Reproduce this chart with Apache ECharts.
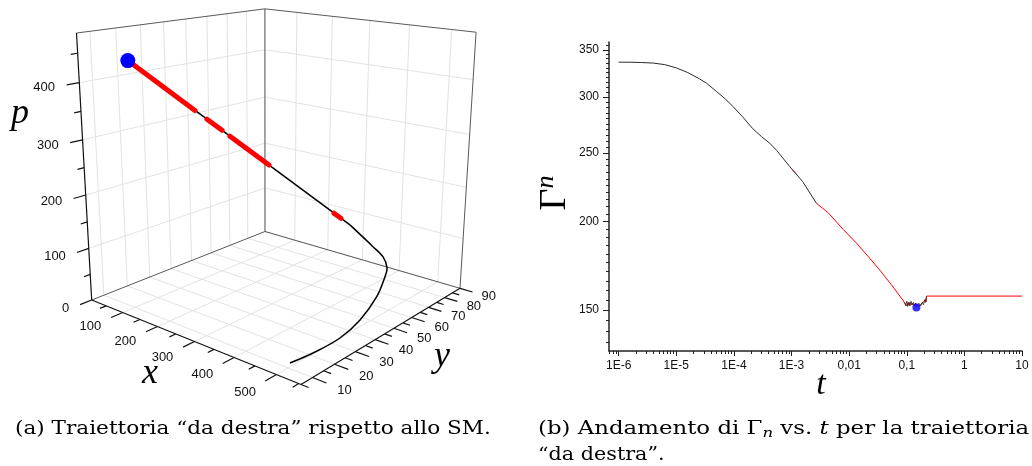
<!DOCTYPE html>
<html>
<head>
<meta charset="utf-8">
<script src="https://cdn.jsdelivr.net/npm/echarts@6/dist/echarts.min.js"></script>
<style>
  html, body { margin: 0; padding: 0; background: #fff; }
  #chart { width: 1032px; height: 466px; }
</style>
</head>
<body>
<div id="chart"></div>
<script>
// ---------- panel (a): trajectory in the (x, y, p) box ----------
const xRange = [5, 555];
const yRange = [5, 90];
const pRange = [0, 484];
const xMajor = [100, 200, 300, 400, 500];
const xMinor = [50, 150, 250, 350, 450, 550];
const yMajor = [10, 20, 30, 40, 50, 60, 70, 80, 90];
const yMinor = [5, 15, 25, 35, 45, 55, 65, 75, 85];
const pMajor = [0, 100, 200, 300, 400];
const pMinor = [50, 150, 250, 350, 450];

// trajectory points, first step to final point; the last step is a straight run
const trajX = [504.2, 522.0, 532.7, 526.1, 499.0, 464.9, 448.8, 418.6, 383.3, 327.3, 49.0];
const trajY = [10.0, 17.7, 27.1, 38.4, 53.2, 65.6, 70.5, 75.1, 77.1, 75.7, 18.3];
const trajP = [9.7, 16.9, 24.2, 31.5, 38.7, 46.0, 50.8, 58.1, 67.8, 102.6, 432.7];

// highlighted stretches of the trajectory (start, end)
const redX = [[49.0, 126.9], [141.3, 159.6], [169.4, 218.6], [305.1, 314.8]];
const redY = [[18.3, 34.3], [37.3, 41.1], [43.1, 53.3], [71.1, 73.1]];
const redP = [[432.7, 340.3], [323.3, 301.5], [289.9, 231.5], [128.8, 117.4]];

// ---------- panel (b): Gamma_n against t ----------
const tBlack = [1e-6, 1.585e-6, 2.512e-6, 3.981e-6, 6.310e-6, 1e-5, 1.585e-5, 2.512e-5, 3.334e-5,
  5.012e-5, 7.079e-5, 9.638e-5, 1.413e-4, 2.118e-4, 3.020e-4, 4.188e-4, 5.534e-4, 9.311e-4,
  1.563e-3, 2.704e-3];
const gBlack = [336.2, 336.1, 335.8, 335.2, 333.5, 330.0, 325.0, 318.5, 314.0,
  305.5, 298.3, 291.0, 281.5, 270.8, 263.8, 258.2, 252.2, 239.3,
  227.9, 212.4];
const tBlip = [1.047e-3, 1.175e-3];
const gBlip = [236.7, 234.2];
const tRed = [2.704e-3, 4.305e-3, 7.834e-3, 0.01340, 0.02143, 0.03396, 0.05383, 0.08531,
  0.09333, 0.1, 0.1047, 0.1096, 0.1148, 0.1202, 0.1259, 0.1318, 0.1380, 0.1445, 0.1549,
  0.1660, 0.1778, 0.1905, 0.1995, 0.2089, 0.2163, 0.2213, 10];
const gRed = [212.4, 206.0, 195.2, 186.5, 178.6, 170.9, 163.0, 155.0,
  153.2, 152.0, 153.6, 152.3, 153.9, 152.5, 153.5, 152.3, 153.2, 151.9, 152.8,
  152.1, 153.1, 152.3, 154.3, 155.4, 154.0, 157.0, 157.0];
const tNoise = [0.09120, 0.09550, 0.1, 0.1035, 0.1084, 0.1135, 0.1189, 0.1245, 0.1303, 0.1365,
  0.1429, 0.1514, 0.1622, 0.1738, 0.1862, 0.1950, 0.2042, 0.2113, 0.2188];
const gNoise = [153.8, 152.2, 154.4, 151.8, 154.0, 152.0, 154.3, 152.6, 153.8, 152.0,
  153.5, 152.4, 153.4, 152.0, 153.8, 152.6, 155.0, 153.8, 156.8];
const tBest = [0.147];
const gBest = [151.3];

const tMajor = [1e-6, 1e-5, 1e-4, 1e-3, 1e-2, 1e-1, 1, 10];
const tLabels = ['1E-6', '1E-5', '1E-4', '1E-3', '0,01', '0,1', '1', '10'];
const gMajor = [150, 200, 250, 300, 350];
const tMin = 6.8e-7, tMax = 10;
const gMin = 131.3, gMax = 359;

const tMinor = [];
for (let d = -7; d <= 0; d++) {
  for (let k = 2; k <= 9; k++) {
    const v = k * Math.pow(10, d);
    if (v >= tMin && v <= tMax) tMinor.push(v);
  }
}
const gMinor = [];
for (let g = 135; g <= 355; g += 5) if (g % 50 !== 0) gMinor.push(g);

// ---------- perspective view of the unit box (u, v, w) onto the left panel ----------
const VIEW = [
  [159.6, 228.4, -21.32, 91.7],
  [21.02, -20.37, -269.64, 300],
  [-0.1651, 0.2079, -0.080, 1]
];
const norm = (val, r) => (val - r[0]) / (r[1] - r[0]);
function projN(u, v, w) {
  const r = VIEW.map(row => row[0] * u + row[1] * v + row[2] * w + row[3]);
  return [r[0] / r[2], r[1] / r[2]];
}
function proj(x, y, p) {
  return projN(norm(x, xRange), norm(y, yRange), norm(p, pRange));
}

const TICK = 0.055, TICK_MINOR = 0.03;
const gridLines = [], boxEdges = [], axisLines = [], tickLabels = [];

xMajor.forEach(x => {
  const u = norm(x, xRange);
  gridLines.push([[u, 0, 0], [u, 1, 0]], [[u, 1, 0], [u, 1, 1]]);
  axisLines.push([[u, 0, 0], [u, -TICK, 0]]);
  tickLabels.push({ at: [u, -0.15, 0], text: String(x), align: 'center' });
});
xMinor.forEach(x => {
  const u = norm(x, xRange);
  if (u >= 0 && u <= 1) axisLines.push([[u, 0, 0], [u, -TICK_MINOR, 0]]);
});
yMajor.forEach(y => {
  const v = norm(y, yRange);
  gridLines.push([[0, v, 0], [1, v, 0]], [[0, v, 0], [0, v, 1]]);
  axisLines.push([[1, v, 0], [1 + TICK, v, 0]]);
  tickLabels.push({ at: [1.125, v, 0], text: String(y), align: 'center' });
});
yMinor.forEach(y => {
  const v = norm(y, yRange);
  if (v >= 0 && v <= 1) axisLines.push([[1, v, 0], [1 + TICK_MINOR, v, 0]]);
});
pMajor.forEach(p => {
  const w = norm(p, pRange);
  if (p > pRange[0]) gridLines.push([[0, 0, w], [0, 1, w]], [[0, 1, w], [1, 1, w]]);
  axisLines.push([[0, 0, w], [0, -TICK, w]]);
  tickLabels.push({ at: [0, -0.105, w], text: String(p), align: 'right' });
});
pMinor.forEach(p => {
  const w = norm(p, pRange);
  if (w >= 0 && w <= 1) axisLines.push([[0, 0, w], [0, -TICK_MINOR, w]]);
});
boxEdges.push(
  [[0, 0, 1], [0, 1, 1]], [[0, 1, 1], [1, 1, 1]], [[0, 1, 0], [0, 1, 1]],
  [[1, 1, 0], [1, 1, 1]], [[0, 1, 0], [1, 1, 0]], [[0, 0, 0], [0, 1, 0]]
);
axisLines.push([[0, 0, 0], [1, 0, 0]], [[1, 0, 0], [1, 1, 0]], [[0, 0, 0], [0, 0, 1]]);

function segmentSeries(list, stroke, width, z) {
  return {
    type: 'custom', coordinateSystem: 'none', silent: true, z: z,
    data: list.map((_, i) => i),
    renderItem: params => {
      const s = list[params.dataIndex];
      const a = projN(s[0][0], s[0][1], s[0][2]);
      const b = projN(s[1][0], s[1][1], s[1][2]);
      return {
        type: 'line',
        shape: { x1: a[0], y1: a[1], x2: b[0], y2: b[1] },
        style: { stroke: stroke, lineWidth: width }
      };
    }
  };
}

const sansLabel = '13px "Liberation Sans", Arial, sans-serif';
const mathFont = 'italic 36px "Liberation Serif", "DejaVu Serif", serif';
const captionFont = '18px "DejaVu Serif", "Liberation Serif", serif';
const centered = { align: 'center', textAlign: 'center', verticalAlign: 'middle', textVerticalAlign: 'middle' };
const leftMid = { align: 'left', textAlign: 'left', verticalAlign: 'middle', textVerticalAlign: 'middle' };

const last = trajX.length - 1;

const series = [
  segmentSeries(gridLines, '#e3e3e3', 1, 1),
  segmentSeries(boxEdges, '#5a5a5a', 1, 2),
  segmentSeries(axisLines, '#111111', 1.2, 3),
  {
    type: 'custom', coordinateSystem: 'none', silent: true, z: 3,
    data: tickLabels.map((_, i) => i),
    renderItem: params => {
      const l = tickLabels[params.dataIndex];
      const c = projN(l.at[0], l.at[1], l.at[2]);
      return {
        type: 'text', x: c[0], y: c[1],
        style: {
          text: l.text, fill: '#111', font: sansLabel,
          align: l.align, textAlign: l.align,
          verticalAlign: 'middle', textVerticalAlign: 'middle'
        }
      };
    }
  },
  {
    // curved part of the trajectory, then the straight run to the final point
    type: 'custom', coordinateSystem: 'none', silent: true, z: 5,
    data: [0],
    renderItem: () => {
      const pts = trajX.map((x, i) => proj(x, trajY[i], trajP[i]));
      const curve = pts.slice(0, last);
      const a = pts[last - 1], b = pts[last];
      return {
        type: 'group',
        children: [
          { type: 'polyline', shape: { points: curve, smooth: 0.35 }, style: { stroke: '#000', lineWidth: 1.5, fill: null } },
          { type: 'line', shape: { x1: a[0], y1: a[1], x2: b[0], y2: b[1] }, style: { stroke: '#000', lineWidth: 1.5 } }
        ]
      };
    }
  },
  {
    type: 'custom', coordinateSystem: 'none', silent: true, z: 6,
    data: redX.map((_, i) => i),
    renderItem: params => {
      const i = params.dataIndex;
      const a = proj(redX[i][0], redY[i][0], redP[i][0]);
      const b = proj(redX[i][1], redY[i][1], redP[i][1]);
      return {
        type: 'line',
        shape: { x1: a[0], y1: a[1], x2: b[0], y2: b[1] },
        style: { stroke: '#ff0000', lineWidth: 5, lineCap: 'round' }
      };
    }
  },
  {
    type: 'custom', coordinateSystem: 'none', silent: true, z: 7,
    data: [0],
    renderItem: () => {
      const c = proj(trajX[last], trajY[last], trajP[last]);
      return { type: 'circle', shape: { cx: c[0], cy: c[1], r: 7.5 }, style: { fill: '#0000ff' } };
    }
  },
  // panel (b)
  {
    type: 'line', xAxisIndex: 0, yAxisIndex: 0, showSymbol: false, symbol: 'none', z: 10,
    data: tBlack.map((t, i) => [t, gBlack[i]]),
    lineStyle: { color: '#2a2a2a', width: 1 }
  },
  {
    type: 'line', xAxisIndex: 0, yAxisIndex: 0, showSymbol: false, symbol: 'none', z: 11,
    data: tBlip.map((t, i) => [t, gBlip[i]]),
    lineStyle: { color: '#ff0000', width: 1 }
  },
  {
    type: 'line', xAxisIndex: 0, yAxisIndex: 0, showSymbol: false, symbol: 'none', z: 11,
    data: tRed.map((t, i) => [t, gRed[i]]),
    lineStyle: { color: '#ff0000', width: 1 }
  },
  {
    type: 'line', xAxisIndex: 0, yAxisIndex: 0, showSymbol: false, symbol: 'none', z: 12,
    data: tNoise.map((t, i) => [t, gNoise[i]]),
    lineStyle: { color: '#2a2a2a', width: 0.8 }
  },
  {
    type: 'scatter', xAxisIndex: 0, yAxisIndex: 0, z: 13,
    data: tBest.map((t, i) => [t, gBest[i]]),
    symbolSize: 8, itemStyle: { color: '#0000ff' }
  }
];

const tickFont = { fontSize: 12, fontFamily: '"Liberation Sans", Arial, sans-serif', color: '#111' };

const option = {
  animation: false,
  backgroundColor: '#ffffff',
  grid: [{ left: 609, top: 42, width: 413, height: 309, containLabel: false }],
  xAxis: [
    {
      type: 'log', gridIndex: 0, position: 'bottom', min: tMin, max: tMax, logBase: 10,
      axisLine: { show: true, onZero: false, lineStyle: { color: '#222', width: 1.5 } },
      axisTick: { show: true, inside: false, length: 5, customValues: tMajor, lineStyle: { color: '#222', width: 1 } },
      axisLabel: Object.assign({
        show: true, margin: 9, customValues: tMajor,
        formatter: v => {
          const k = tMajor.findIndex(m => Math.abs(Math.log10(m) - Math.log10(v)) < 1e-6);
          return k >= 0 ? tLabels[k] : '';
        }
      }, tickFont),
      splitLine: { show: false }, minorTick: { show: false }, minorSplitLine: { show: false }
    },
    {
      type: 'log', gridIndex: 0, position: 'bottom', offset: 0, min: tMin, max: tMax, logBase: 10,
      axisLine: { show: false, onZero: false },
      axisTick: { show: true, inside: false, length: 3, customValues: tMinor, lineStyle: { color: '#222', width: 1 } },
      axisLabel: { show: false },
      splitLine: { show: false }
    }
  ],
  yAxis: [
    {
      type: 'log', gridIndex: 0, position: 'left', min: gMin, max: gMax, logBase: 10,
      axisLine: { show: true, onZero: false, lineStyle: { color: '#222', width: 1.5 } },
      axisTick: { show: true, inside: false, length: 6, customValues: gMajor, lineStyle: { color: '#222', width: 1 } },
      axisLabel: Object.assign({ show: true, margin: 10, customValues: gMajor, formatter: v => String(Math.round(v)) }, tickFont),
      splitLine: { show: false }, minorTick: { show: false }
    },
    {
      type: 'log', gridIndex: 0, position: 'left', offset: 0, min: gMin, max: gMax, logBase: 10,
      axisLine: { show: false, onZero: false },
      axisTick: { show: true, inside: false, length: 3, customValues: gMinor, lineStyle: { color: '#222', width: 1 } },
      axisLabel: { show: false },
      splitLine: { show: false }
    }
  ],
  graphic: [
    { type: 'text', x: 20, y: 114, style: Object.assign({ text: 'p', font: mathFont, fill: '#000' }, centered) },
    { type: 'text', x: 150, y: 374, style: Object.assign({ text: 'x', font: mathFont, fill: '#000' }, centered) },
    { type: 'text', x: 442, y: 357, style: Object.assign({ text: 'y', font: mathFont, fill: '#000' }, centered) },
    { type: 'text', x: 821, y: 385, style: Object.assign({ text: 't', font: 'italic 34px "Liberation Serif", "DejaVu Serif", serif', fill: '#000' }, centered) },
    {
      type: 'text', x: 555, y: 193, rotation: Math.PI / 2,
      style: Object.assign({
        text: '{g|Γ}{n|n}',
        rich: {
          g: { font: '38px "Liberation Serif", "DejaVu Serif", serif', fill: '#000', color: '#000', lineHeight: 44 },
          n: { font: 'italic 26px "Liberation Serif", "DejaVu Serif", serif', fill: '#000', color: '#000', lineHeight: 26, verticalAlign: 'top' }
        }
      }, centered)
    },
    {
      type: 'text', x: 15, y: 429, scaleX: 1.2,
      style: Object.assign({ text: '(a) Traiettoria “da destra” rispetto allo SM.', font: captionFont, fill: '#000' }, leftMid)
    },
    {
      type: 'text', x: 538, y: 429, scaleX: 1.27,
      style: Object.assign({
        text: '{r|(b) Andamento di Γ}{s|n}{r| vs. }{i|t}{r| per la traiettoria}',
        rich: {
          r: { font: captionFont, fill: '#000', color: '#000', lineHeight: 23 },
          s: { font: 'italic 13px "DejaVu Serif", "Liberation Serif", serif', fill: '#000', color: '#000', lineHeight: 13, verticalAlign: 'bottom' },
          i: { font: 'italic 18px "DejaVu Serif", "Liberation Serif", serif', fill: '#000', color: '#000', lineHeight: 23 }
        }
      }, leftMid)
    },
    {
      type: 'text', x: 538, y: 455, scaleX: 1.15,
      style: Object.assign({ text: '“da destra”.', font: captionFont, fill: '#000' }, leftMid)
    }
  ],
  series: series
};

const chart = echarts.init(document.getElementById('chart'), null, { renderer: 'canvas' });
chart.setOption(option);
</script>
</body>
</html>
